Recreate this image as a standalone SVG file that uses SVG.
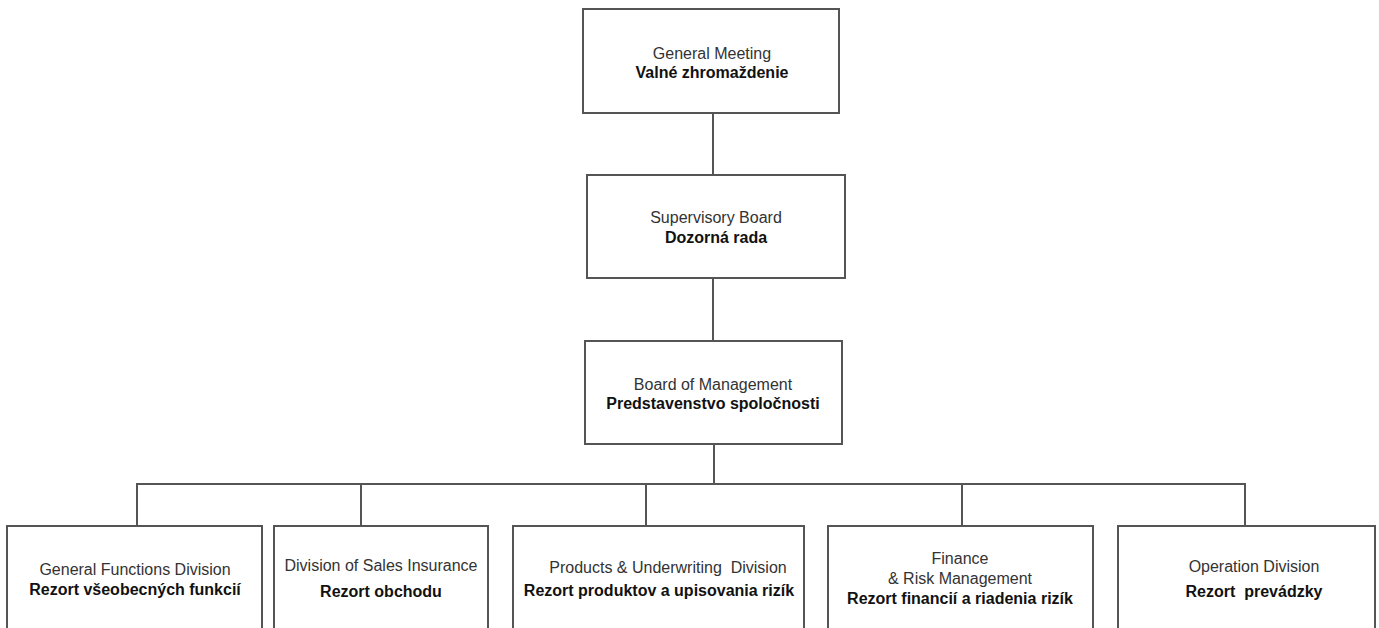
<svg xmlns="http://www.w3.org/2000/svg" width="1379" height="628" viewBox="0 0 1379 628">
<style>
.box{fill:#fff;stroke:#555;stroke-width:2}
.con{fill:none;stroke:#555;stroke-width:2}
text{font-family:"Liberation Sans",Arial,sans-serif;font-size:16px;text-anchor:middle}
.en{fill:#333}
.sk{fill:#111;font-weight:bold}
</style>
<rect width="1379" height="628" fill="#fff"/>
<g id="connectors">
<line class="con" x1="713" y1="113" x2="713" y2="175"/>
<line class="con" x1="713" y1="278" x2="713" y2="341"/>
<line class="con" x1="714" y1="444" x2="714" y2="484"/>
<polyline class="con" points="137,526 137,484 1245,484 1245,526"/>
<line class="con" x1="361" y1="484" x2="361" y2="526"/>
<line class="con" x1="646" y1="484" x2="646" y2="526"/>
<line class="con" x1="962" y1="484" x2="962" y2="526"/>
</g>
<g id="general-meeting">
<rect class="box" x="583" y="9" width="256" height="104"/>
<text class="en" x="712" y="59">General Meeting</text>
<text class="sk" x="712" y="78">Valné zhromaždenie</text>
</g>
<g id="supervisory-board">
<rect class="box" x="587" y="175" width="258" height="103"/>
<text class="en" x="716" y="223">Supervisory Board</text>
<text class="sk" x="716" y="243">Dozorná rada</text>
</g>
<g id="board-of-management">
<rect class="box" x="585" y="341" width="257" height="103"/>
<text class="en" x="713" y="390">Board of Management</text>
<text class="sk" x="713" y="409">Predstavenstvo spoločnosti</text>
</g>
<g id="general-functions">
<rect class="box" x="7" y="526" width="255" height="120"/>
<text class="en" x="135" y="575">General Functions Division</text>
<text class="sk" x="135" y="595">Rezort všeobecných funkcií</text>
</g>
<g id="sales-insurance">
<rect class="box" x="274" y="526" width="214" height="120"/>
<text class="en" x="381" y="571">Division of Sales Insurance</text>
<text class="sk" x="381" y="597">Rezort obchodu</text>
</g>
<g id="products-underwriting">
<rect class="box" x="513" y="526" width="291" height="120"/>
<text class="en" x="668" y="573" xml:space="preserve">Products &amp; Underwriting  Division</text>
<text class="sk" x="659" y="596">Rezort produktov a upisovania rizík</text>
</g>
<g id="finance-risk">
<rect class="box" x="828" y="526" width="265" height="120"/>
<text class="en" x="960" y="564">Finance</text>
<text class="en" x="960" y="584">&amp; Risk Management</text>
<text class="sk" x="960" y="604">Rezort financií a riadenia rizík</text>
</g>
<g id="operation">
<rect class="box" x="1118" y="526" width="257" height="120"/>
<text class="en" x="1254" y="572">Operation Division</text>
<text class="sk" x="1254" y="597" xml:space="preserve">Rezort  prevádzky</text>
</g>
</svg>
